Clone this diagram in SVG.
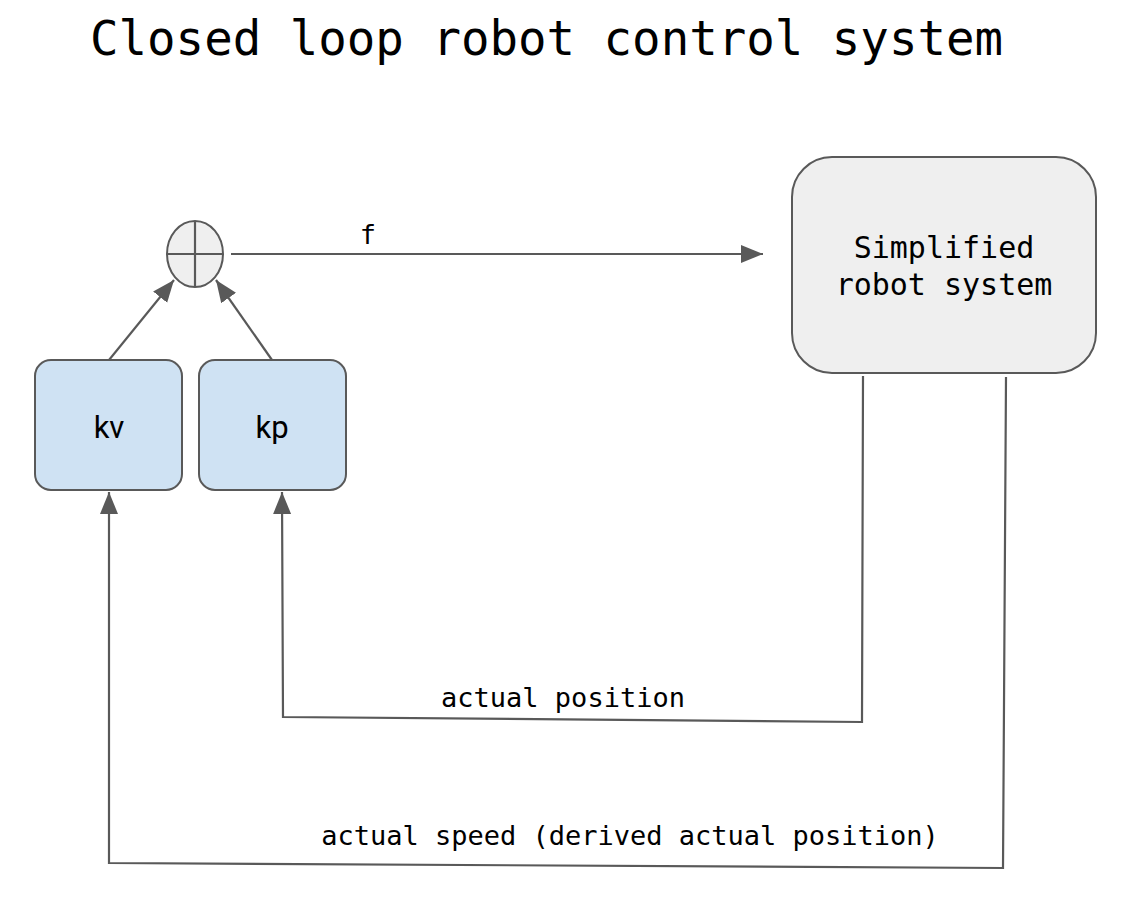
<svg xmlns="http://www.w3.org/2000/svg" width="1127" height="897" viewBox="0 0 1127 897">
<style>
.mono{font-family:"DejaVu Sans Mono","Liberation Mono",monospace;fill:#000}
.sans{font-family:"Roboto","Liberation Sans",Arial,sans-serif;fill:#000}
.box{stroke:#595959;stroke-width:2}
.edge{fill:none;stroke:#595959;stroke-width:2.2}
</style>
<defs>
<marker id="arr" markerUnits="userSpaceOnUse" markerWidth="24" markerHeight="20" refX="22" refY="9" orient="auto">
<path d="M0,0 L22,9 L0,18 Z" fill="#595959"/>
</marker>
</defs>
<rect width="1127" height="897" fill="#fff"/>
<text class="mono" x="90" y="55" font-size="47.4">Closed loop robot control system</text>
<g id="sum">
<ellipse cx="195" cy="254" rx="28" ry="33" fill="#efefef" class="box"/>
<line x1="195" y1="221" x2="195" y2="287" class="edge"/>
<line x1="167" y1="254" x2="223" y2="254" class="edge"/>
</g>
<g id="kv">
<rect x="35" y="360" width="147" height="130" rx="16" fill="#cfe2f3" class="box"/>
<text class="sans" x="109" y="438" font-size="31" text-anchor="middle">kv</text>
</g>
<g id="kp">
<rect x="199" y="360" width="147" height="130" rx="16" fill="#cfe2f3" class="box"/>
<text class="sans" x="272" y="438" font-size="31" text-anchor="middle">kp</text>
</g>
<g id="robot">
<rect x="792" y="157" width="304" height="216" rx="40" fill="#efefef" class="box"/>
<text class="mono" x="944" y="258" font-size="30" text-anchor="middle">Simplified</text>
<text class="mono" x="944" y="295" font-size="30" text-anchor="middle">robot system</text>
</g>
<g id="connectors">
<line x1="109" y1="360" x2="174" y2="280" class="edge" marker-end="url(#arr)"/>
<line x1="272" y1="360" x2="216" y2="280" class="edge" marker-end="url(#arr)"/>
<line x1="231" y1="254" x2="763" y2="254" class="edge" marker-end="url(#arr)"/>
<text class="mono" x="368" y="244" font-size="27" text-anchor="middle">f</text>
<polyline points="863,376 862,722 283,717 282,492" class="edge" marker-end="url(#arr)"/>
<text class="mono" x="563" y="707" font-size="27" text-anchor="middle">actual position</text>
<polyline points="1006,377 1003,868 109,863 109,492" class="edge" marker-end="url(#arr)"/>
<text class="mono" x="630" y="845" font-size="27" text-anchor="middle">actual speed (derived actual position)</text>
</g>
</svg>
